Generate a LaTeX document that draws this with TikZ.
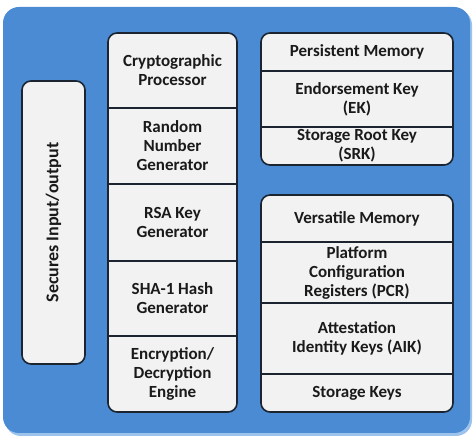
\documentclass[tikz,border=0pt]{standalone}
\usepackage{fontspec}
\setmainfont{Carlito}
\usetikzlibrary{positioning,fit,backgrounds}
\definecolor{tpmBlue}{HTML}{4A8BD3}
\definecolor{tpmShade}{HTML}{9CC3EC}
\definecolor{tpmLine}{HTML}{1C2430}
\definecolor{tpmText}{HTML}{1A1A1A}
\definecolor{tpmCell}{HTML}{F2F2F2}
\tikzset{
  cell/.style={
    rectangle,
    inner sep=0pt,
    outer sep=0pt,
    align=center,
    text=tpmText,
    font=\bfseries\fontsize{17}{19}\selectfont
  },
  midcell/.style={cell, minimum width=129pt},
  sidecell/.style={cell, minimum width=192pt},
  frame/.style={
    draw=tpmLine,
    line width=1.6pt,
    rounded corners=9pt,
    fill=tpmCell,
    inner sep=0pt
  },
  divider/.style={draw=tpmLine, line width=1.3pt}
}

\begin{document}
\begin{tikzpicture}[x=1pt, y=-1pt, node distance=0pt]
  \useasboundingbox (0,0) rectangle (474,443);

  % left bar
  \node[frame, rotate=90, minimum width=283pt, minimum height=63pt,
        font=\bfseries\fontsize{18}{21}\selectfont, text=tpmText]
        (secio) at (53.5,222.5) {Secures Input/output};

  % middle column
  \node[midcell, minimum height=75pt, anchor=north west] (crypto) at (108,33) {Cryptographic\\Processor};
  \node[midcell, minimum height=76pt, below=of crypto] (rng) {Random\\Number\\Generator};
  \node[midcell, minimum height=77pt, below=of rng] (rsa) {RSA Key\\Generator};
  \node[midcell, minimum height=75pt, below=of rsa] (sha) {SHA-1 Hash\\Generator};
  \node[midcell, minimum height=76pt, below=of sha] (engine) {Encryption/\\Decryption\\Engine};

  % persistent memory
  \node[sidecell, minimum height=38pt, anchor=north west] (persist) at (261,33) {Persistent Memory};
  \node[sidecell, minimum height=56pt, below=of persist] (ek) {Endorsement Key\\(EK)};
  \node[sidecell, minimum height=38pt, below=of ek] (srk) {Storage Root Key\\(SRK)};

  % versatile memory
  \node[sidecell, minimum height=47pt, anchor=north west] (versatile) at (261,195) {Versatile Memory};
  \node[sidecell, minimum height=61pt, below=of versatile] (pcr) {Platform\\Configuration\\Registers (PCR)};
  \node[sidecell, minimum height=71pt, below=of pcr] (aik) {Attestation\\Identity Keys (AIK)};
  \node[sidecell, minimum height=38pt, below=of aik] (storage) {Storage Keys};

  \foreach \c in {crypto,rng,rsa,sha,persist,ek,versatile,pcr,aik}
    \draw[divider] (\c.south west) -- (\c.south east);

  \begin{scope}[on background layer]
    \fill[tpmShade, rounded corners=16pt] (5,9) rectangle (472,436);
    \fill[tpmBlue, rounded corners=16pt] (3,7) rectangle (470,433);
    \node[frame, fit=(crypto)(engine)] (midframe) {};
    \node[frame, fit=(persist)(srk)] (persistframe) {};
    \node[frame, fit=(versatile)(storage)] (versframe) {};
  \end{scope}
\end{tikzpicture}
\end{document}
